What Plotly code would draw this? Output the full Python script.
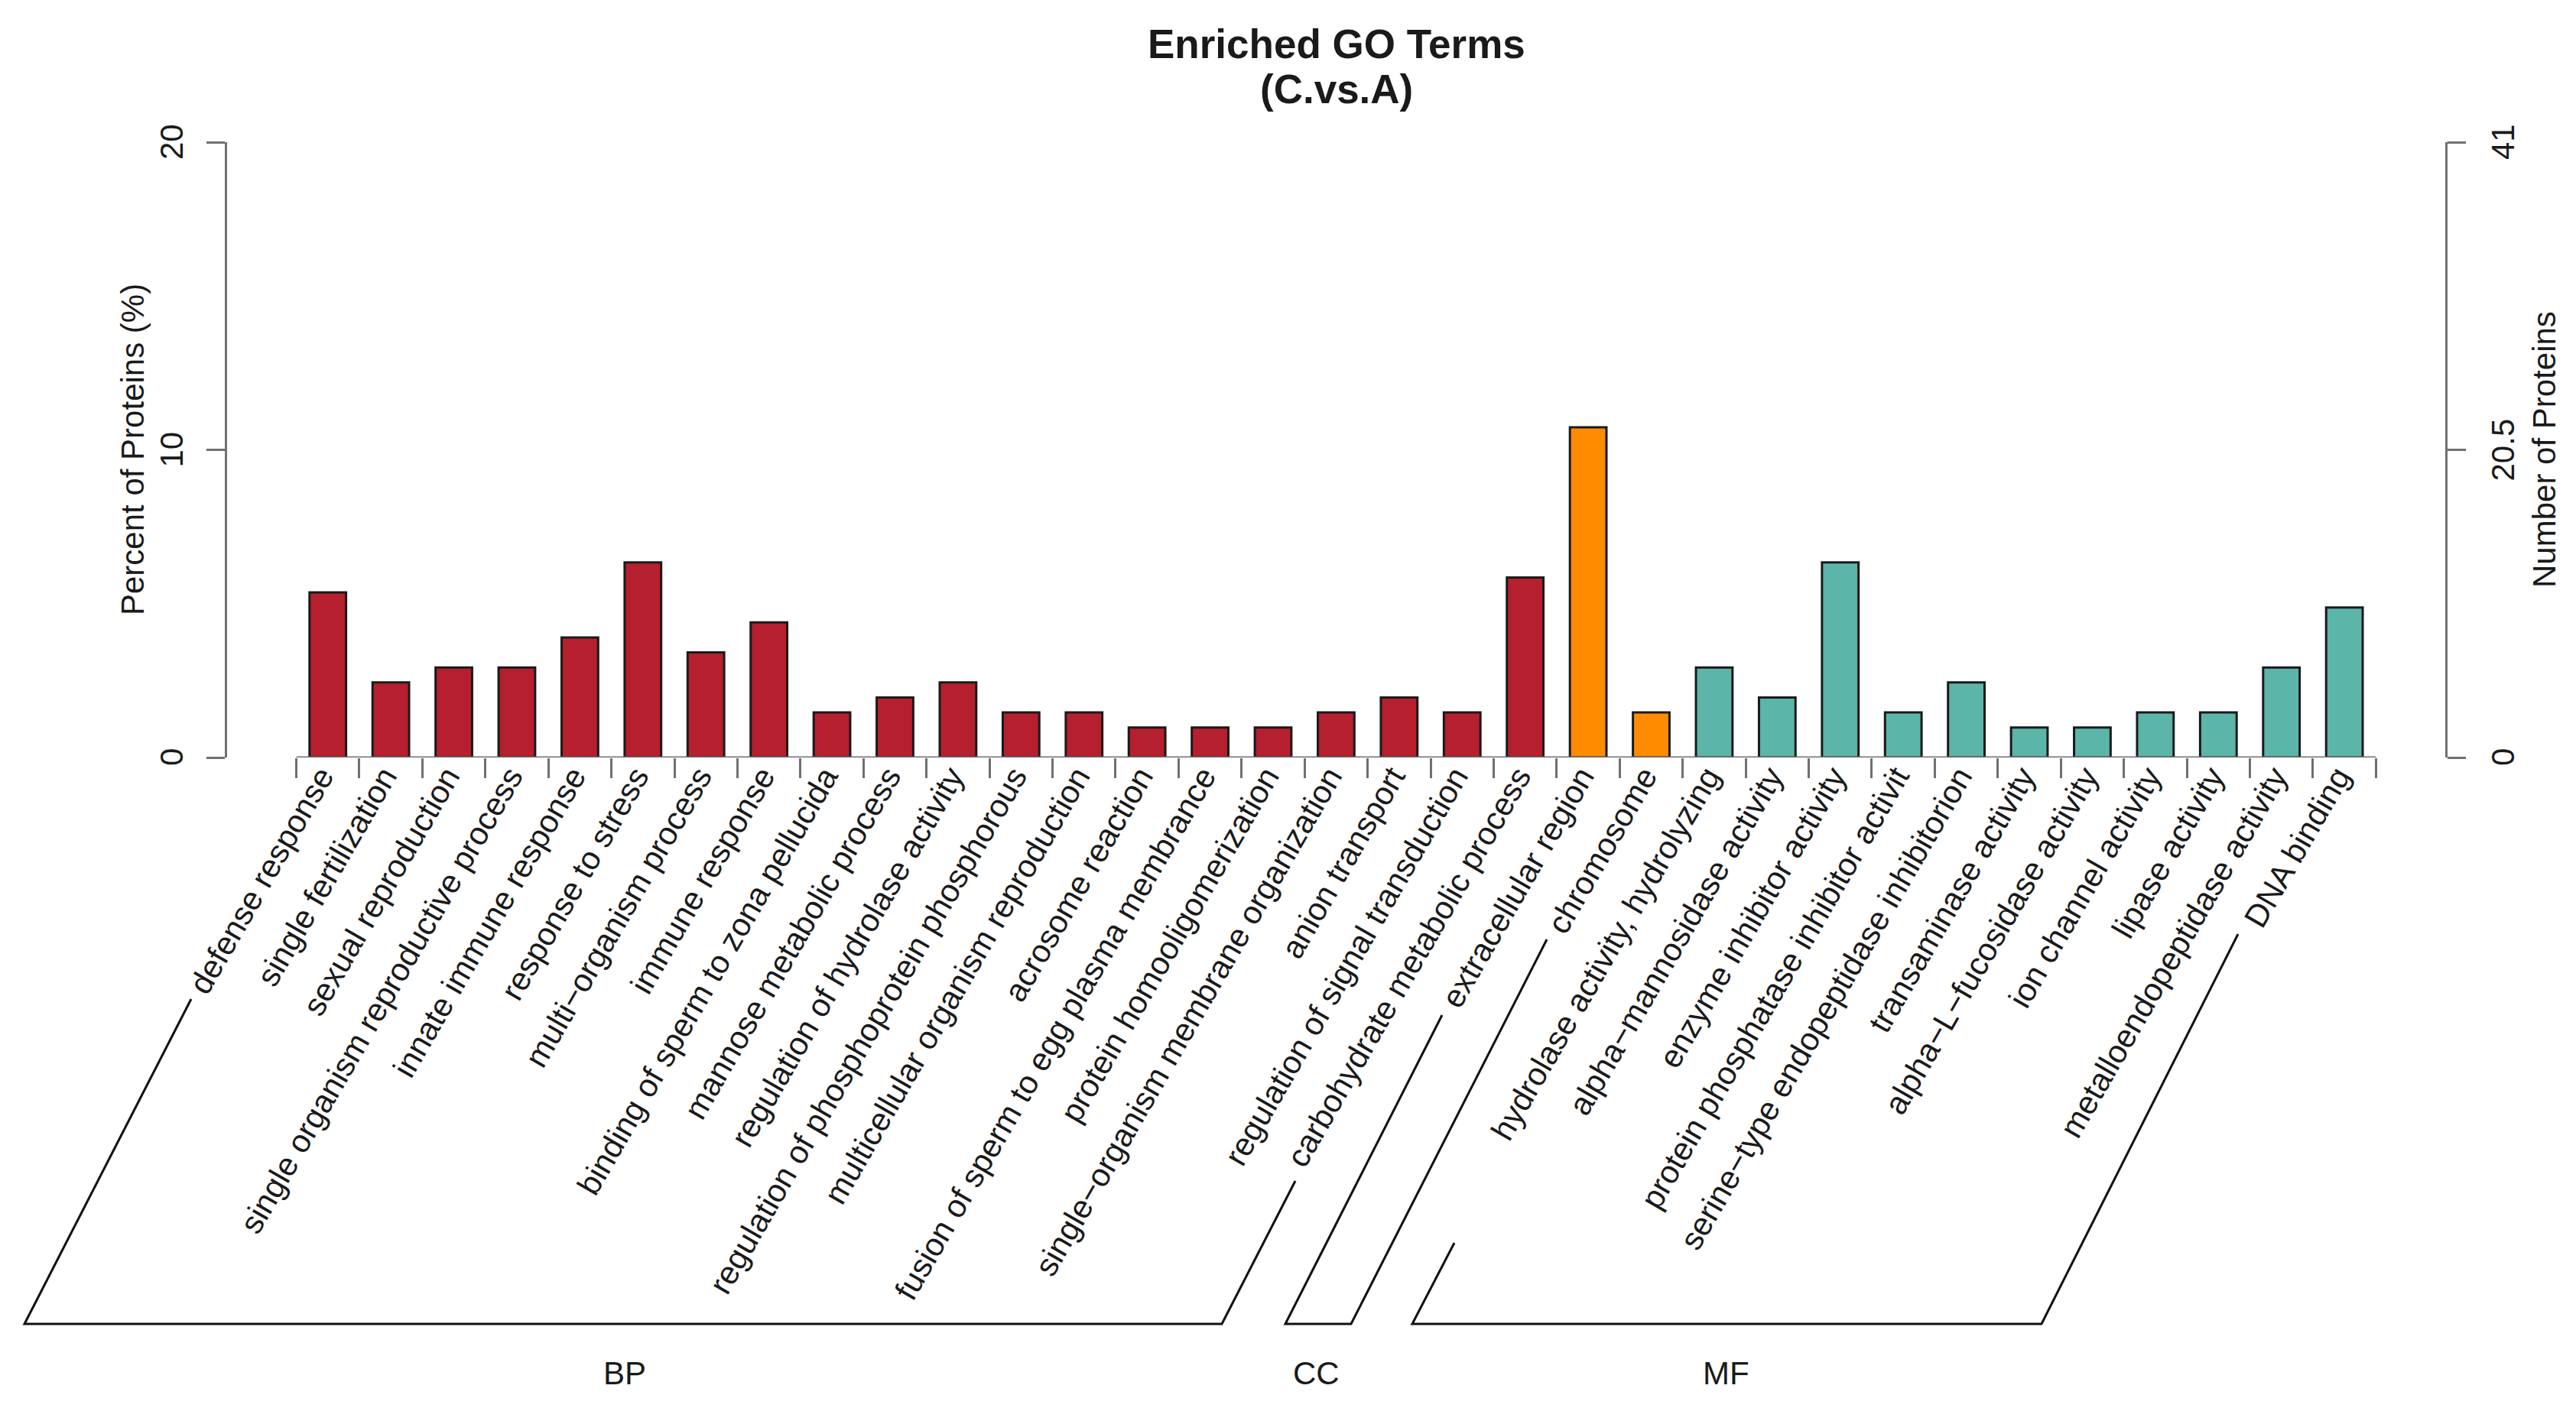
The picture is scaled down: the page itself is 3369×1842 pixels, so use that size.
import plotly.graph_objects as go

# browser body margin (8 px) shifts the figure; coordinates below are page pixels
OFF = 8
W, H = 3369, 1842
FW, FH = W - 2 * OFF, H - 2 * OFF
X0, X1, Y0, Y1 = 297, 3198, 186, 991   # plot region on the page

# GO terms per category, in plotting order
terms_bp = [
    "defense response", "single fertilization", "sexual reproduction",
    "single organism reproductive process", "innate immune response",
    "response to stress", "multi\u2212organism process", "immune response",
    "binding of sperm to zona pellucida", "mannose metabolic process",
    "regulation of hydrolase activity", "regulation of phosphoprotein phosphorous",
    "multicellular organism reproduction", "acrosome reaction",
    "fusion of sperm to egg plasma membrance", "protein homooligomerization",
    "single\u2212organism membrane organization", "anion transport",
    "regulation of signal transduction", "carbohydrate metabolic process",
]
terms_cc = ["extracellular region", "chromosome"]
terms_mf = [
    "hydrolase activity, hydrolyzing", "alpha\u2212mannosidase activity",
    "enzyme inhibitor activity", "protein phosphatase inhibitor activit",
    "serine\u2212type endopeptidase inhibitorion", "transaminase activity",
    "alpha\u2212L\u2212fucosidase activity", "ion channel activity",
    "lipase activity", "metalloendopeptidase activity", "DNA binding",
]

# number of proteins per term
counts_bp = [11, 5, 6, 6, 8, 13, 7, 9, 3, 4, 5, 3, 3, 2, 2, 2, 3, 4, 3, 12]
counts_cc = [22, 3]
counts_mf = [6, 4, 13, 3, 5, 2, 2, 3, 3, 6, 10]
total_proteins = 205  # 41 proteins = 20 %

group_names = ["BP", "CC", "MF"]
group_colors = ["#B51F2E", "#FF8C00", "#5CB5A9"]

pct_ticks = [0, 10, 20]
num_ticks = [0, 20.5, 41]

terms = terms_bp + terms_cc + terms_mf
counts = counts_bp + counts_cc + counts_mf
percent = [c / total_proteins * 100 for c in counts]
colors = ([group_colors[0]] * len(terms_bp) + [group_colors[1]] * len(terms_cc)
          + [group_colors[2]] * len(terms_mf))
xs = list(range(len(terms)))

AXIS = "#707070"
TXT = "#1a1a1a"
FONT = "Liberation Sans, Arial, sans-serif"
TITLE_FONT = "Liberation Sans Narrow, Arial Narrow, Liberation Sans, Arial"


def px(x):
    return (x - X0) / (X1 - X0)


def py(y):
    return (Y1 - y) / (Y1 - Y0)


fig = go.Figure()
fig.add_trace(go.Bar(
    x=xs, y=percent, width=0.58,
    marker=dict(color=colors, line=dict(color="#1a1a1a", width=3)),
    showlegend=False, hoverinfo="skip",
))
# invisible trace so the right axis (counts) gets drawn
fig.add_trace(go.Scatter(
    x=xs, y=counts, yaxis="y2", mode="markers",
    marker=dict(opacity=0), showlegend=False, hoverinfo="skip",
))

shapes = []
# x axis line from first to last tick
shapes.append(dict(type="line", xref="x", yref="y", x0=-0.5, x1=len(terms) - 0.5,
                   y0=0, y1=0, line=dict(color=AXIS, width=3)))

# category brackets under the labels (page pixels)
brackets = [
    [(250, 1307), (32, 1732), (1598, 1732), (1694, 1545)],
    [(1886, 1328), (1681, 1732), (1767, 1732), (2023, 1229)],
    [(1902, 1626), (1847, 1732), (2670, 1732), (2927, 1222)],
]
for pts in brackets:
    path = "M " + " L ".join(f"{px(a):.5f},{py(b):.5f}" for a, b in pts)
    shapes.append(dict(type="path", xref="paper", yref="paper", path=path,
                       line=dict(color="#111111", width=3)))


def label(text, x, y, size=42, angle=0, family=FONT, xref="paper", yref="paper"):
    return dict(text=text, x=x, y=y, xref=xref, yref=yref, showarrow=False,
                textangle=angle, xanchor="center", yanchor="middle",
                font=dict(family=family, size=size, color=TXT))


annotations = [
    label("<b>Enriched GO Terms</b>", px(1748), py(58), size=53, family=TITLE_FONT),
    label("<b>(C.vs.A)</b>", px(1748), py(116), size=53, family=TITLE_FONT),
    label("Percent of Proteins (%)", px(173), py(588), angle=-90),
    label("Number of Proteins", px(3327), py(588), angle=-90),
]
for t in pct_ticks:
    annotations.append(label(f"{t:g}", px(224), t, angle=-90, yref="y"))
for t in num_ticks:
    annotations.append(label(f"{t:g}", px(3273), t, angle=-90, yref="y2"))
for name, gx in zip(group_names, [817, 1721, 2257]):
    annotations.append(label(name, px(gx), py(1796)))

fig.update_layout(
    width=FW, height=FH,
    margin=dict(l=X0 - OFF, r=FW - (X1 - OFF), t=Y0 - OFF, b=FH - (Y1 - OFF),
                autoexpand=False),
    paper_bgcolor="white", plot_bgcolor="white",
    font=dict(family=FONT, size=42, color=TXT),
    shapes=shapes, annotations=annotations,
    xaxis=dict(
        range=[-1.598, 33.60], tickmode="array", tickvals=xs, ticktext=terms,
        tickangle=-60, ticks="", showline=False, showgrid=False, zeroline=False,
        automargin=False, tickfont=dict(size=42, color=TXT),
        ticklabelstandoff=-9, ticklabelshift=-9,
        minor=dict(tickmode="array", tickvals=[i - 0.5 for i in range(len(terms) + 1)],
                   ticks="outside", ticklen=26, tickwidth=3, tickcolor=AXIS, showgrid=False),
    ),
    yaxis=dict(
        range=[0, 20], tickmode="array", tickvals=pct_ticks, showticklabels=False,
        ticks="outside", ticklen=24, tickwidth=3, tickcolor=AXIS,
        showline=True, linecolor=AXIS, linewidth=3, showgrid=False, zeroline=False,
        automargin=False,
    ),
    yaxis2=dict(
        range=[0, 41], tickmode="array", tickvals=num_ticks, showticklabels=False,
        overlaying="y", side="right",
        ticks="outside", ticklen=24, tickwidth=3, tickcolor=AXIS,
        showline=True, linecolor=AXIS, linewidth=3, showgrid=False, zeroline=False,
        automargin=False,
    ),
)

fig.write_html("out.html")
